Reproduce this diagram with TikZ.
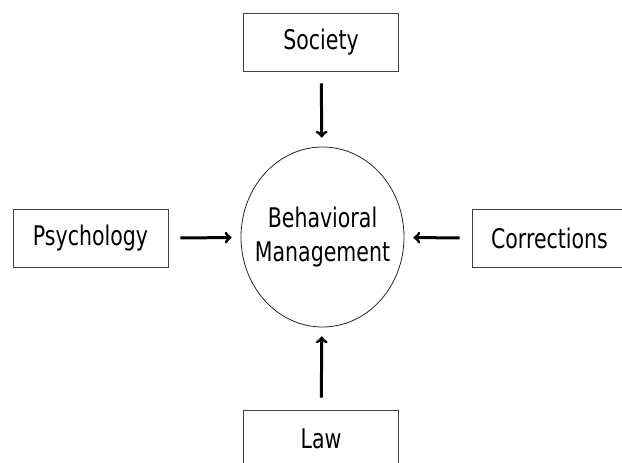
\documentclass[tikz,border=0pt]{standalone}
\usepackage{fontspec}
\setmainfont{DejaVu Sans}[FakeStretch=0.76]
\usetikzlibrary{arrows}
\usetikzlibrary{shapes}

\begin{document}
\begin{tikzpicture}[x=1pt,y=-1pt]
  \tikzset{box/.style = {draw=black!75, line width=0.9pt, minimum width=155pt, minimum height=58pt, inner sep=0pt}}
  \tikzset{line/.style={draw, ->, >=to, line width=3pt, shorten <=12pt, shorten >=9pt}}
  \tikzset{every node/.style={font=\fontsize{27}{34}\selectfont}}

  \useasboundingbox (0,0) rectangle (622,463);
  \clip (0,0) rectangle (622,463);

  %%%%%%%%%%%%

  \node[draw=black!85, line width=0.8pt, ellipse, minimum width=163pt,
  minimum height=180pt, inner sep=0pt] (bm) at (322.5,237) {};
  \node[align=center] (bmtext) at (bm.center) {Behavioral\\Management};

  \node[box] (society) at (321,42) {Society};
  \node[box] (psych) at (90.5,238.5) {Psychology};
  \node[box] (corr) at (549.5,238.5) {Corrections};
  \node[box] (law) at (321,439) {Law};

  %%%%%%%%%%%%

  \path[line] (society) -- (bm);
  \path[line] (psych) -- (bm);
  \path[line] (corr) -- (bm);
  \path[line] (law) -- (bm);

\end{tikzpicture}
\end{document}
